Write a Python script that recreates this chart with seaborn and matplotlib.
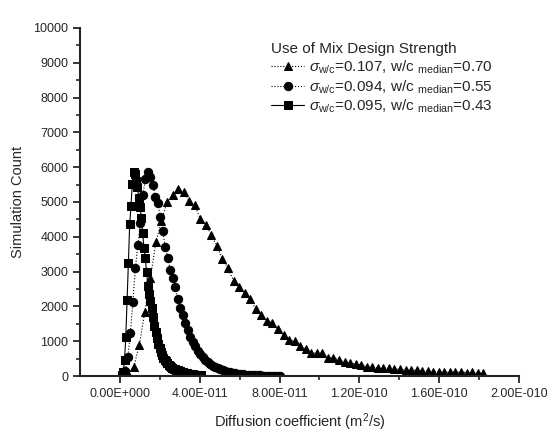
import numpy as np
import pandas as pd
import matplotlib
matplotlib.use('Agg')
import matplotlib.pyplot as plt
import seaborn as sns
from matplotlib.ticker import MultipleLocator, FixedLocator

# counts per bin; bin centres in units of 1e-11 m2/s
sq_start, sq_step = 0.10, 0.065
sq_counts = [30, 110, 450, 1120, 2180, 3250, 4370, 4890, 5520, 5850,
             5800, 5600, 5430, 5110, 4860, 4540, 4110, 3680, 3390, 3000,
             2600, 2350, 2150, 1950, 1700, 1450, 1260, 1080, 930, 800,
             680, 600, 530, 470, 420, 370, 330, 300, 270, 240,
             215, 195, 175, 160, 145, 130, 120, 110, 100, 90,
             80, 72, 65, 58, 52, 46, 40, 35, 30, 25, 20, 15]

ci_start, ci_step = 0.15, 0.125
ci_counts = [20, 150, 550, 1250, 2130, 3100, 3760, 4400, 5200, 5650,
             5850, 5720, 5490, 5150, 4970, 4570, 4170, 3700, 3390, 3050,
             2820, 2550, 2200, 1950, 1750, 1520, 1320, 1120, 980, 850,
             720, 620, 540, 470, 400, 350, 300, 260, 225, 195,
             165, 140, 120, 105, 90, 78, 67, 58, 50, 43,
             37, 32, 27, 23, 20, 17, 14, 12, 10, 8, 7, 5, 4, 3]

tr_start, tr_step = 0.415, 0.278
tr_counts = [60, 260, 890, 1840, 2815, 3850, 4450, 5000, 5200, 5370,
             5290, 5030, 4910, 4510, 4340, 4050, 3735, 3360, 3100, 2730,
             2560, 2385, 2210, 1925, 1750, 1580, 1520, 1350, 1180, 1030,
             1000, 860, 775, 660, 660, 650, 520, 520, 460, 400,
             370, 345, 320, 265, 260, 235, 230, 225, 200, 195,
             170, 170, 165, 145, 140, 120, 125, 110, 115, 105,
             110, 100, 105, 90, 95]

labels = [r'$\sigma_{\mathrm{w/c}}$=0.107, w/c $_{\mathrm{median}}$=0.70',
          r'$\sigma_{\mathrm{w/c}}$=0.094, w/c $_{\mathrm{median}}$=0.55',
          r'$\sigma_{\mathrm{w/c}}$=0.095, w/c $_{\mathrm{median}}$=0.43']
xtick_vals = [0, 4e-11, 8e-11, 1.2e-10, 1.6e-10, 2e-10]
xtick_labels = ['0.00E+000', '4.00E-011', '8.00E-011', '1.20E-010', '1.60E-010', '2.00E-010']


def bins(start, step, counts):
    x = (start + step * np.arange(len(counts))) * 1e-11
    return pd.DataFrame({'D': x, 'count': counts})


sns.set_style('ticks')
plt.rcParams['font.family'] = ['Liberation Sans', 'DejaVu Sans']
plt.rcParams['mathtext.fontset'] = 'custom'
plt.rcParams['mathtext.rm'] = 'Liberation Sans'
plt.rcParams['mathtext.it'] = 'Liberation Sans:italic'

fig = plt.figure(figsize=(5.48, 4.34), dpi=100)
ax = fig.add_axes([0.146, 0.1336, 0.801, 0.802])

tri = bins(tr_start, tr_step, tr_counts)
cir = bins(ci_start, ci_step, ci_counts)
squ = bins(sq_start, sq_step, sq_counts)

sns.lineplot(data=tri, x='D', y='count', ax=ax, color='black', linestyle=':', lw=0.8,
             marker='^', markersize=6, markeredgecolor='black', label=labels[0])
sns.lineplot(data=cir, x='D', y='count', ax=ax, color='black', linestyle=':', lw=0.8,
             marker='o', markersize=6, markeredgecolor='black', label=labels[1])
sns.lineplot(data=squ, x='D', y='count', ax=ax, color='black', linestyle='-', lw=0.8,
             marker='s', markersize=6, markeredgecolor='black', label=labels[2])

ax.set_xlim(-2e-11, 2e-10)
ax.set_ylim(0, 10000)
ax.xaxis.set_major_locator(FixedLocator(xtick_vals))
ax.set_xticklabels(xtick_labels)
ax.xaxis.set_minor_locator(FixedLocator([2e-11, 6e-11, 1e-10, 1.4e-10, 1.8e-10]))
ax.yaxis.set_major_locator(MultipleLocator(1000))
ax.yaxis.set_minor_locator(MultipleLocator(500))

sns.despine(ax=ax)
for s in ['left', 'bottom']:
    ax.spines[s].set_linewidth(1.5)
ax.tick_params(which='major', length=5, width=1.3, labelsize=9, direction='out')
ax.tick_params(which='minor', length=3, width=1.2, direction='out')

ax.set_xlabel(r'Diffusion coefficient (m$^2$/s)', fontsize=10.5, labelpad=8)
ax.set_ylabel('Simulation Count', fontsize=10.5, labelpad=6)

leg = ax.legend(title='Use of Mix Design Strength', loc='upper right', frameon=False,
                fontsize=11, title_fontsize=11, handlelength=2.2, handletextpad=0.3,
                labelspacing=0.15, borderaxespad=0.3, bbox_to_anchor=(0.965, 0.99))
leg._legend_box.align = 'left'

plt.savefig('out.png', dpi=100)
